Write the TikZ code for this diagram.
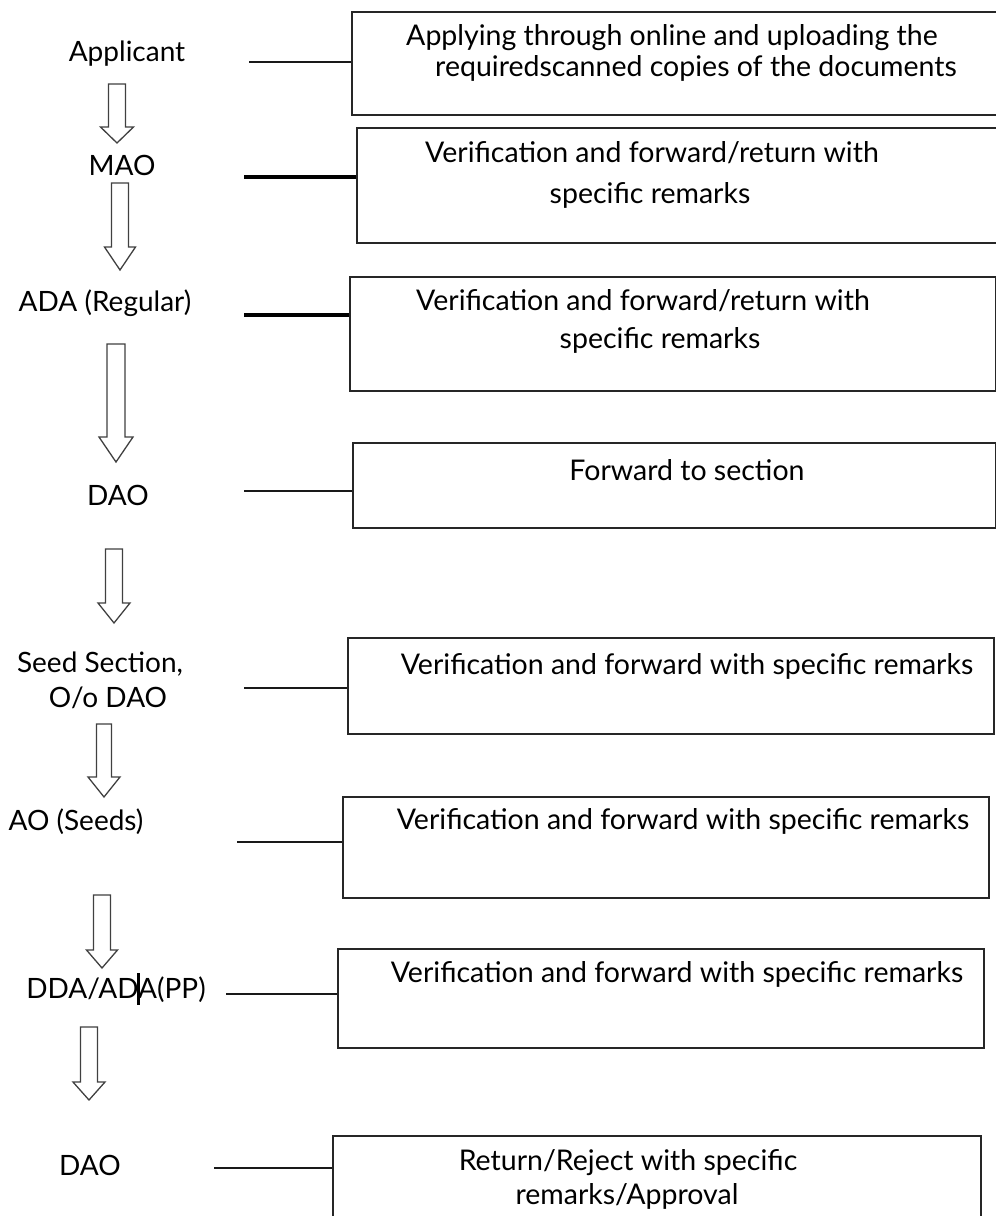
\documentclass[tikz,border=0pt]{standalone}
\usepackage{fontspec}
\setmainfont{Lato}
\begin{document}
\begin{tikzpicture}[x=1pt,y=-1pt,
  box/.style={draw=black!85,line width=1.6pt,rectangle,inner sep=0pt,anchor=north west},
  txt/.style={inner sep=0pt,anchor=base,font=\fontsize{28.5}{32}\selectfont},
  lbl/.style={inner sep=0pt,anchor=base,font=\fontsize{28}{32}\selectfont},
  link/.style={draw=black!90,line width=1.3pt},
  boldlink/.style={draw=black,line width=3.2pt},
  blockarrow/.style={draw=black!75,line width=1.3pt,fill=white,line join=miter}]
\useasboundingbox (0,0) rectangle (996,1216);
\clip (0,0) rectangle (996,1216);
\fill[white] (0,0) rectangle (996,1216);

% downward block arrow: centre x, shaft half width, top, head start, head half width, tip
\newcommand\downblock[6]{%
  \draw[blockarrow] (#1-#2,#3) -- (#1+#2,#3) -- (#1+#2,#4) -- (#1+#5,#4)
    -- (#1,#6) -- (#1-#5,#4) -- (#1-#2,#4) -- cycle;}

% ---- process boxes ----
\node[box,minimum width=680pt,minimum height=103pt] (b1) at (351,11) {};
\node[box,minimum width=680pt,minimum height=115pt] (b2) at (356,127) {};
\node[box,minimum width=646pt,minimum height=114pt] (b3) at (349,276) {};
\node[box,minimum width=643pt,minimum height=85pt]  (b4) at (352,442) {};
\node[box,minimum width=646pt,minimum height=96pt]  (b5) at (347,637) {};
\node[box,minimum width=646pt,minimum height=101pt] (b6) at (342,796) {};
\node[box,minimum width=646pt,minimum height=99pt]  (b7) at (337,948) {};
\node[box,minimum width=648pt,minimum height=100pt] (b8) at (332,1135) {};

% ---- box texts ----
\node[txt] (t1a) at (672,45)  {Applying through online and uploading the};
\node[txt] (t1b) at (696,76)  {requiredscanned copies of the documents};
\node[txt] (t2a) at (652,162) {Verification and forward/return with};
\node[txt] (t2b) at (650,203) {specific remarks};
\node[txt] (t3a) at (643,310) {Verification and forward/return with};
\node[txt] (t3b) at (660,348) {specific remarks};
\node[txt] (t4)  at (687,480) {Forward to section};
\node[txt] (t5)  at (687,674) {Verification and forward with specific remarks};
\node[txt] (t6)  at (683,829) {Verification and forward with specific remarks};
\node[txt] (t7)  at (677,982) {Verification and forward with specific remarks};
\node[txt] (t8a) at (628,1170) {Return/Reject with specific};
\node[txt] (t8b) at (627,1204) {remarks/Approval};

% ---- stage labels ----
\node[lbl] (applicant) at (127,61)  {Applicant};
\node[lbl] (mao)       at (122,175) {MAO};
\node[lbl] (adareg)    at (105,311) {ADA (Regular)};
\node[lbl] (dao)       at (118,505) {DAO};
\node[lbl] (seed)      at (100,672) {Seed Section,};
\node[lbl] (seedb)     at (108,707) {O/o DAO};
\node[lbl] (ao)        at (76,830)  {AO (Seeds)};
\node[lbl] (dda)       at (116,998) {DDA/ADA(PP)};
\node[lbl] (daofinal)  at (90,1175) {DAO};
\draw[line width=3pt] (138,973) -- (138,1005);

% ---- links from stages to boxes ----
\coordinate (l1) at (249,62);
\coordinate (l2) at (244,177);
\coordinate (l3) at (244,315);
\coordinate (l4) at (244,491);
\coordinate (l5) at (244,688);
\coordinate (l6) at (237,842);
\coordinate (l7) at (226,994);
\coordinate (l8) at (214,1168);
\draw[link]     (l1) -- (l1 -| b1.west);
\draw[boldlink] (l2) -- (l2 -| b2.west);
\draw[boldlink] (l3) -- (l3 -| b3.west);
\draw[link]     (l4) -- (l4 -| b4.west);
\draw[link]     (l5) -- (l5 -| b5.west);
\draw[link]     (l6) -- (l6 -| b6.west);
\draw[link]     (l7) -- (l7 -| b7.west);
\draw[link]     (l8) -- (l8 -| b8.west);

% ---- flow arrows between stages ----
\downblock{117}{8.5}{84}{127}{16.5}{143}
\downblock{120}{8.5}{183}{247}{15.5}{270}
\downblock{116}{9}{344}{437}{17}{462}
\downblock{114}{8.5}{549}{603}{16}{623}
\downblock{104}{7.5}{724}{777}{16}{797}
\downblock{102}{8.5}{895}{950}{15.5}{968}
\downblock{89}{8.5}{1027}{1082}{16}{1100}
\end{tikzpicture}
\end{document}
